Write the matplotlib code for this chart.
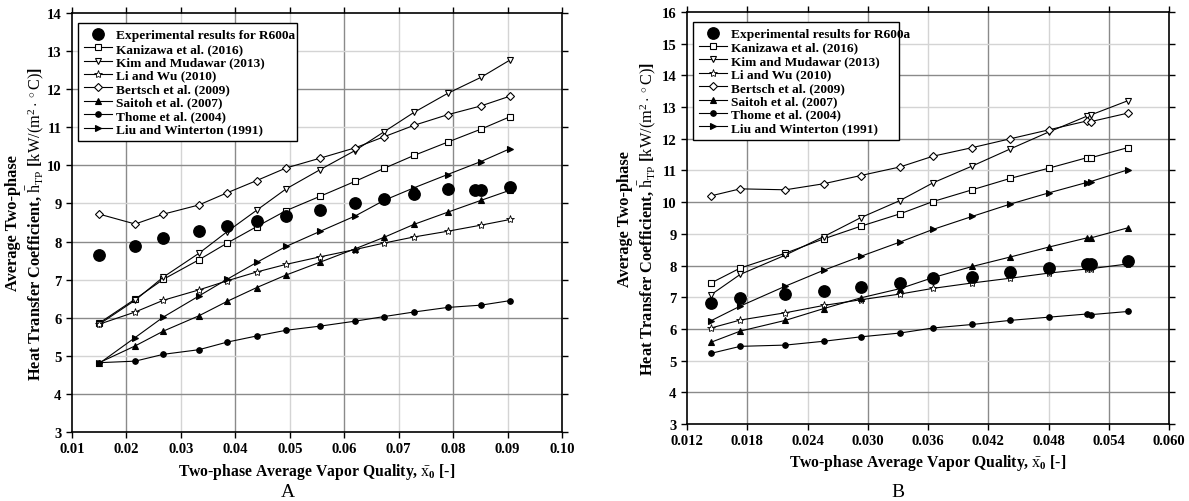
import matplotlib
matplotlib.use("Agg")
import matplotlib.pyplot as plt
from matplotlib.ticker import MultipleLocator, FormatStrFormatter

plt.rcParams['font.family'] = ['Liberation Serif', 'DejaVu Serif']
plt.rcParams['mathtext.fontset'] = 'custom'
plt.rcParams['mathtext.rm'] = 'Liberation Serif'
plt.rcParams['mathtext.bf'] = 'Liberation Serif:bold'
plt.rcParams['mathtext.it'] = 'Liberation Serif:italic'

# ---- Panel A data ----
xA = [0.0150, 0.0216, 0.0268, 0.0333, 0.0385, 0.0439, 0.0493,
      0.0556, 0.0620, 0.0673, 0.0728, 0.0790, 0.0851, 0.0905]
expA_x = [0.0150, 0.0216, 0.0268, 0.0333, 0.0385, 0.0439, 0.0493,
          0.0556, 0.0620, 0.0673, 0.0728, 0.0790, 0.0840, 0.0851, 0.0905]
expA = [7.64, 7.87, 8.08, 8.27, 8.41, 8.54, 8.68, 8.84, 9.02, 9.11,
        9.26, 9.39, 9.35, 9.35, 9.44]
kanA = [5.86, 6.49, 7.01, 7.52, 7.96, 8.39, 8.81, 9.19, 9.58, 9.92,
        10.26, 10.61, 10.95, 11.28]
kimA = [5.83, 6.46, 7.07, 7.69, 8.26, 8.82, 9.38, 9.89, 10.39, 10.88,
        11.39, 11.89, 12.31, 12.77]
liA = [5.83, 6.15, 6.46, 6.73, 6.97, 7.20, 7.40, 7.60, 7.79, 7.96,
       8.12, 8.27, 8.43, 8.58]
berA = [8.72, 8.46, 8.72, 8.96, 9.28, 9.60, 9.93, 10.19, 10.46, 10.75,
        11.05, 11.33, 11.56, 11.82]
saiA = [4.82, 5.26, 5.65, 6.05, 6.43, 6.79, 7.12, 7.46, 7.81, 8.11,
        8.45, 8.77, 9.08, 9.35]
thoA = [4.82, 4.86, 5.04, 5.16, 5.36, 5.52, 5.67, 5.78, 5.91, 6.03,
        6.15, 6.27, 6.33, 6.45]
liuA = [4.80, 5.48, 6.02, 6.57, 7.01, 7.45, 7.87, 8.27, 8.67, 9.08,
        9.41, 9.76, 10.10, 10.44]

# ---- Panel B data ----
xB = [0.0144, 0.0173, 0.0218, 0.0256, 0.0293, 0.0332, 0.0365,
      0.0404, 0.0442, 0.0480, 0.0518, 0.0522, 0.0559]
expB = [6.81, 6.96, 7.11, 7.19, 7.33, 7.46, 7.62, 7.65, 7.79, 7.92,
        8.05, 8.05, 8.13]
kanB = [7.45, 7.92, 8.39, 8.84, 9.24, 9.63, 10.02, 10.39, 10.75, 11.07,
        11.40, 11.40, 11.72]
kimB = [7.08, 7.72, 8.33, 8.91, 9.51, 10.05, 10.61, 11.14, 11.68, 12.21,
        12.71, 12.75, 13.20]
liB = [6.03, 6.28, 6.51, 6.74, 6.92, 7.10, 7.28, 7.45, 7.60, 7.76,
       7.89, 7.90, 8.05]
berB = [10.20, 10.42, 10.39, 10.58, 10.84, 11.11, 11.45, 11.72, 12.00,
        12.28, 12.56, 12.54, 12.81]
saiB = [5.58, 5.93, 6.27, 6.64, 6.98, 7.27, 7.62, 7.97, 8.27, 8.58,
        8.87, 8.87, 9.19]
thoB = [5.23, 5.45, 5.49, 5.61, 5.75, 5.87, 6.03, 6.14, 6.27, 6.37,
        6.47, 6.45, 6.55]
liuB = [6.26, 6.72, 7.35, 7.85, 8.29, 8.74, 9.14, 9.55, 9.94, 10.29,
        10.62, 10.65, 11.02]

labels = ["Experimental results for R600a", "Kanizawa et al. (2016)",
          "Kim and Mudawar (2013)", "Li and Wu (2010)",
          "Bertsch et al. (2009)", "Saitoh et al. (2007)",
          "Thome et al. (2004)", "Liu and Winterton (1991)"]

styles = [
    dict(marker='s', mfc='white', ms=4.0),
    dict(marker='v', mfc='white', ms=5.0),
    dict(marker='*', mfc='white', ms=6.0, mew=0.6),
    dict(marker='D', mfc='white', ms=4.0),
    dict(marker='^', mfc='black', ms=4.5),
    dict(marker='o', mfc='black', ms=4.0),
    dict(marker='>', mfc='black', ms=5.0),
]

fig = plt.figure(figsize=(11.89, 5.02), dpi=100)
axA = fig.add_axes([72 / 1189, 69 / 502, 490 / 1189, 419 / 502])
axB = fig.add_axes([687 / 1189, 77 / 502, 482 / 1189, 412 / 502])

xlabel = r'Two-phase Average Vapor Quality, $\bar{\mathrm{x}}_{\mathbf{0}}$ [-]'
ylabel = ('Average Two-phase\n'
          r'Heat Transfer Coefficient, $\bar{\mathrm{h}}_{\mathrm{TP}}$ '
          r'[$\mathrm{kW/(m^2\cdot{}^\circ C)}$]')


def draw(ax, x, xexp, exp, series, xlim, xstep, xfmt, ylim,
         leg_box, ylab_x, xpad):
    ax.plot(xexp, exp, linestyle='none', marker='o', ms=8.2, color='black',
            label=labels[0], zorder=5)
    for ys, st, lab in zip(series, styles, labels[1:]):
        st = dict(st)
        ax.plot(x, ys, color='black', lw=0.8, mec='black',
                mew=st.pop('mew', 0.8), label=lab, zorder=4, **st)
    ax.set_xlim(*xlim)
    ax.set_ylim(*ylim)
    ax.xaxis.set_major_locator(MultipleLocator(xstep))
    ax.xaxis.set_major_formatter(FormatStrFormatter(xfmt))
    ax.yaxis.set_major_locator(MultipleLocator(1))
    # alternating dark / light grid lines
    n = int(round((xlim[1] - xlim[0]) / xstep))
    for k in range(1, n):
        ax.axvline(xlim[0] + k * xstep,
                   color='#8a8a8a' if k % 2 == 1 else '#d4d4d4',
                   lw=1.0, zorder=1)
    for yv in range(ylim[0] + 1, ylim[1]):
        ax.axhline(yv, color='#8a8a8a' if yv % 2 == 0 else '#d4d4d4',
                   lw=1.0, zorder=1)
    for s in ax.spines.values():
        s.set_linewidth(1.2)
    ax.tick_params(axis='both', which='major', labelsize=10.5, width=1.0,
                   length=4, top=True, right=True)
    for t in ax.get_xticklabels() + ax.get_yticklabels():
        t.set_fontweight('bold')
    ax.set_xlabel(xlabel, fontsize=11.3, fontweight='bold', labelpad=xpad)
    ax.set_ylabel(ylabel, fontsize=11.8, fontweight='bold',
                  linespacing=1.25)
    ax.yaxis.set_label_coords(ylab_x, 0.5)
    leg = ax.legend(loc='upper left', bbox_to_anchor=leg_box, mode='expand',
                    frameon=True, fancybox=False,
                    edgecolor='black', framealpha=1, handlelength=2.1,
                    borderpad=0.45, labelspacing=0.08, handletextpad=0.3,
                    borderaxespad=0.0,
                    prop={'weight': 'bold', 'size': 9.6})
    leg.get_frame().set_linewidth(1.0)
    leg.set_zorder(10)


draw(axA, xA, expA_x, expA, [kanA, kimA, liA, berA, saiA, thoA, liuA],
     (0.01, 0.10), 0.01, '%.2f', (3, 14),
     (0.012, 0.0, 0.447, 0.976), -0.050, 4)
draw(axB, xB, xB, expB, [kanB, kimB, liB, berB, saiB, thoB, liuB],
     (0.012, 0.060), 0.006, '%.3f', (3, 16),
     (0.012, 0.0, 0.427, 0.976), -0.058, 3)

fig.text(288 / 1189, 1 - 493 / 502, 'A', ha='center', va='center',
         fontsize=14)
fig.text(898 / 1189, 1 - 493 / 502, 'B', ha='center', va='center',
         fontsize=14)

fig.savefig('out.png', dpi=100)
